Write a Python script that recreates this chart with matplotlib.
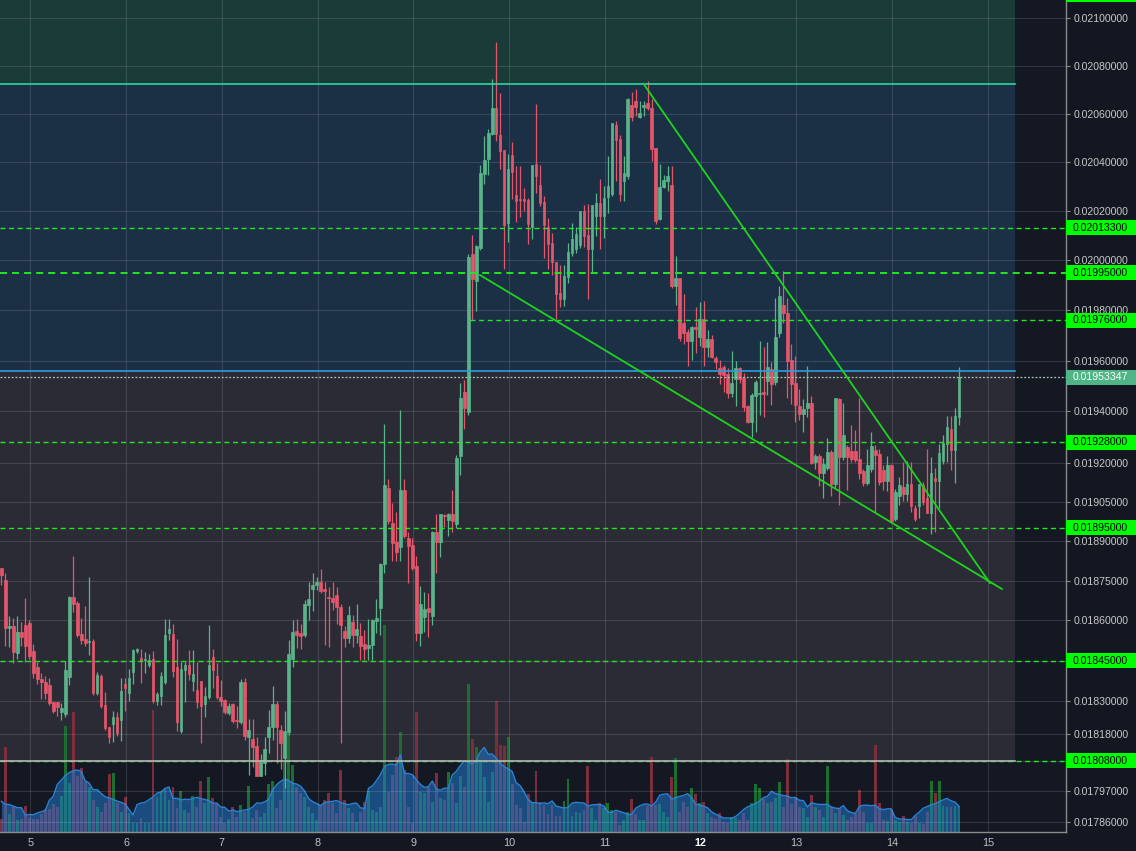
import matplotlib
matplotlib.use('Agg')

import matplotlib.pyplot as plt
import matplotlib.transforms as mtransforms
from matplotlib.patches import Rectangle
from matplotlib.ticker import FixedLocator, NullLocator, FuncFormatter
import numpy as np
import pandas as pd

plt.rcParams['font.family'] = ['Liberation Sans', 'DejaVu Sans']

# ---------------- data (hourly candles, x = day of month) ----------------
first_candle_day = 4 + 16.75 / 24

opens = [
    0.018796, 0.018751, 0.018570, 0.018578, 0.018478, 0.018556, 0.018582, 0.018589, 0.018485, 0.018426,
    0.018382, 0.018370, 0.018359, 0.018296, 0.018296, 0.018259, 0.018252, 0.018389, 0.018687, 0.018664,
    0.018548, 0.018530, 0.018519, 0.018522, 0.018330, 0.018393, 0.018285, 0.018204, 0.018215, 0.018241,
    0.018230, 0.018363, 0.018330, 0.018408, 0.018485, 0.018459, 0.018452, 0.018434, 0.018456, 0.018300,
    0.018319, 0.018370, 0.018552, 0.018548, 0.018426, 0.018189, 0.018415, 0.018434, 0.018374, 0.018341,
    0.018374, 0.018289, 0.018315, 0.018463, 0.018393, 0.018315, 0.018304, 0.018256, 0.018289, 0.018230,
    0.018222, 0.018370, 0.018167, 0.018160, 0.018134, 0.018025, 0.018073, 0.018167, 0.018204, 0.018289,
    0.018193, 0.018091, 0.018185, 0.018456, 0.018559, 0.018552, 0.018545, 0.018657, 0.018717, 0.018732,
    0.018743, 0.018717, 0.018687, 0.018683, 0.018694, 0.018649, 0.018559, 0.018533, 0.018593, 0.018545,
    0.018541, 0.018511, 0.018496, 0.018508, 0.018596, 0.018645, 0.018811, 0.019104, 0.018969, 0.018896,
    0.018877, 0.019096, 0.018911, 0.018885, 0.018804, 0.018552, 0.018611, 0.018645, 0.018615, 0.018935,
    0.018896, 0.019000, 0.018981, 0.019004, 0.018965, 0.019227, 0.019478, 0.019396, 0.020024, 0.019918,
    0.020049, 0.020350, 0.020412, 0.020518, 0.020625, 0.020514, 0.020449, 0.020151, 0.020429, 0.020267,
    0.020250, 0.020250, 0.020246, 0.020135, 0.020392, 0.020308, 0.020237, 0.020135, 0.020069, 0.019992,
    0.019869, 0.019845, 0.019935, 0.020029, 0.020045, 0.020061, 0.020200, 0.020102, 0.020045, 0.020180,
    0.020233, 0.020180, 0.020258, 0.020271, 0.020555, 0.020494, 0.020321, 0.020342, 0.020637, 0.020654,
    0.020588, 0.020629, 0.020646, 0.020625, 0.020457, 0.020167, 0.020300, 0.020321, 0.020308, 0.019898,
    0.019931, 0.019749, 0.019714, 0.019678, 0.019733, 0.019694, 0.019765, 0.019655, 0.019686, 0.019612,
    0.019569, 0.019576, 0.019549, 0.019471, 0.019529, 0.019569, 0.019533, 0.019420, 0.019358, 0.019459,
    0.019467, 0.019478, 0.019518, 0.019565, 0.019514, 0.019710, 0.019820, 0.019788, 0.019604, 0.019510,
    0.019420, 0.019392, 0.019412, 0.019435, 0.019204, 0.019227, 0.019162, 0.019181, 0.019242, 0.019119,
    0.019447, 0.019223, 0.019262, 0.019246, 0.019246, 0.019215, 0.019169, 0.019123, 0.019177, 0.019250,
    0.019235, 0.019173, 0.019131, 0.019192, 0.018985, 0.019073, 0.019108, 0.019081, 0.019119, 0.019027,
    0.019035, 0.019115, 0.019065, 0.019008, 0.019142, 0.019131, 0.019208, 0.019273, 0.019331, 0.019250,
    0.019377,
]
highs = [
    0.018796, 0.018777, 0.018615, 0.018608, 0.018615, 0.018593, 0.018683, 0.018600, 0.018511, 0.018445,
    0.018404, 0.018393, 0.018385, 0.018296, 0.018296, 0.018293, 0.018448, 0.018691, 0.018842, 0.018672,
    0.018608, 0.018653, 0.018762, 0.018530, 0.018408, 0.018400, 0.018333, 0.018204, 0.018263, 0.018259,
    0.018385, 0.018385, 0.018419, 0.018493, 0.018496, 0.018493, 0.018482, 0.018474, 0.018485, 0.018333,
    0.018408, 0.018604, 0.018604, 0.018585, 0.018530, 0.018445, 0.018445, 0.018489, 0.018489, 0.018445,
    0.018374, 0.018352, 0.018582, 0.018493, 0.018441, 0.018378, 0.018308, 0.018293, 0.018293, 0.018282,
    0.018382, 0.018385, 0.018233, 0.018233, 0.018167, 0.018106, 0.018167, 0.018267, 0.018356, 0.018300,
    0.018211, 0.018263, 0.018526, 0.018600, 0.018604, 0.018585, 0.018676, 0.018743, 0.018777, 0.018762,
    0.018792, 0.018743, 0.018725, 0.018743, 0.018725, 0.018660, 0.018578, 0.018653, 0.018619, 0.018660,
    0.018589, 0.018563, 0.018604, 0.018604, 0.018679, 0.018815, 0.019350, 0.019138, 0.019046, 0.019012,
    0.019404, 0.019138, 0.018935, 0.018911, 0.018842, 0.018728, 0.018706, 0.018702, 0.018938, 0.019004,
    0.019004, 0.019004, 0.019008, 0.019096, 0.019231, 0.019510, 0.019522, 0.020024, 0.020102, 0.020061,
    0.020387, 0.020506, 0.020535, 0.020746, 0.020900, 0.020687, 0.020449, 0.020433, 0.020482, 0.020383,
    0.020383, 0.020296, 0.020254, 0.020387, 0.020642, 0.020387, 0.020262, 0.020171, 0.020110, 0.019992,
    0.019980, 0.019980, 0.020069, 0.020151, 0.020135, 0.020200, 0.020225, 0.020229, 0.020225, 0.020275,
    0.020329, 0.020304, 0.020424, 0.020563, 0.020571, 0.020510, 0.020424, 0.020667, 0.020692, 0.020704,
    0.020654, 0.020654, 0.020737, 0.020662, 0.020457, 0.020392, 0.020346, 0.020383, 0.020383, 0.020016,
    0.019931, 0.019865, 0.019726, 0.019737, 0.019812, 0.019833, 0.019837, 0.019722, 0.019702, 0.019620,
    0.019604, 0.019584, 0.019569, 0.019639, 0.019600, 0.019576, 0.019553, 0.019427, 0.019471, 0.019522,
    0.019678, 0.019655, 0.019675, 0.019596, 0.019849, 0.019898, 0.019959, 0.019849, 0.019667, 0.019620,
    0.019490, 0.019447, 0.019580, 0.019459, 0.019235, 0.019235, 0.019219, 0.019296, 0.019250, 0.019451,
    0.019451, 0.019435, 0.019269, 0.019346, 0.019327, 0.019451, 0.019177, 0.019254, 0.019319, 0.019269,
    0.019254, 0.019192, 0.019227, 0.019196, 0.019100, 0.019146, 0.019204, 0.019208, 0.019204, 0.019038,
    0.019119, 0.019127, 0.019254, 0.019223, 0.019181, 0.019273, 0.019308, 0.019381, 0.019381, 0.019412,
    0.019576,
]
lows = [
    0.018732, 0.018504, 0.018500, 0.018441, 0.018456, 0.018504, 0.018445, 0.018456, 0.018385, 0.018363,
    0.018308, 0.018308, 0.018285, 0.018256, 0.018245, 0.018230, 0.018241, 0.018359, 0.018630, 0.018537,
    0.018511, 0.018504, 0.018471, 0.018322, 0.018322, 0.018274, 0.018193, 0.018146, 0.018149, 0.018171,
    0.018153, 0.018263, 0.018300, 0.018363, 0.018478, 0.018367, 0.018404, 0.018426, 0.018293, 0.018285,
    0.018285, 0.018363, 0.018526, 0.018389, 0.018189, 0.018182, 0.018296, 0.018378, 0.018337, 0.018274,
    0.018146, 0.018241, 0.018308, 0.018348, 0.018308, 0.018282, 0.018252, 0.018248, 0.018219, 0.018200,
    0.018215, 0.018156, 0.018029, 0.018058, 0.018025, 0.018025, 0.018029, 0.018109, 0.018156, 0.018073,
    0.018051, 0.017982, 0.018175, 0.018426, 0.018496, 0.018493, 0.018537, 0.018600, 0.018634, 0.018713,
    0.018702, 0.018508, 0.018500, 0.018638, 0.018585, 0.018146, 0.018500, 0.018515, 0.018500, 0.018515,
    0.018452, 0.018452, 0.018452, 0.018452, 0.018552, 0.018545, 0.018777, 0.018965, 0.018823, 0.018823,
    0.018823, 0.018911, 0.018740, 0.018789, 0.018522, 0.018504, 0.018556, 0.018537, 0.018582, 0.018777,
    0.018838, 0.018954, 0.018919, 0.018935, 0.018950, 0.019154, 0.019331, 0.019385, 0.019761, 0.019796,
    0.020041, 0.020312, 0.020346, 0.020510, 0.020486, 0.020371, 0.019967, 0.020074, 0.020250, 0.020155,
    0.020176, 0.020200, 0.020065, 0.020086, 0.020275, 0.020221, 0.020008, 0.019967, 0.019943, 0.019765,
    0.019812, 0.019816, 0.019910, 0.020016, 0.020029, 0.020049, 0.020053, 0.019845, 0.019955, 0.020098,
    0.020045, 0.020090, 0.020192, 0.020262, 0.020321, 0.020242, 0.020242, 0.020329, 0.020571, 0.020592,
    0.020584, 0.020592, 0.020617, 0.020404, 0.020147, 0.020163, 0.020292, 0.020283, 0.019890, 0.019820,
    0.019678, 0.019667, 0.019580, 0.019604, 0.019631, 0.019659, 0.019580, 0.019616, 0.019612, 0.019565,
    0.019506, 0.019478, 0.019451, 0.019455, 0.019420, 0.019510, 0.019400, 0.019354, 0.019300, 0.019319,
    0.019385, 0.019377, 0.019463, 0.019427, 0.019502, 0.019694, 0.019749, 0.019451, 0.019431, 0.019358,
    0.019365, 0.019319, 0.019377, 0.019196, 0.019177, 0.019111, 0.019065, 0.019173, 0.019073, 0.019104,
    0.019038, 0.019212, 0.019096, 0.019204, 0.019204, 0.019138, 0.019111, 0.019115, 0.019165, 0.019008,
    0.019115, 0.019096, 0.019092, 0.018973, 0.018977, 0.019038, 0.019054, 0.019054, 0.019012, 0.018977,
    0.018988, 0.019038, 0.019008, 0.018927, 0.018935, 0.019027, 0.019196, 0.019204, 0.019173, 0.019123,
    0.019346,
]
closes = [
    0.018770, 0.018570, 0.018578, 0.018482, 0.018556, 0.018537, 0.018504, 0.018467, 0.018404, 0.018382,
    0.018370, 0.018330, 0.018293, 0.018263, 0.018278, 0.018274, 0.018415, 0.018687, 0.018660, 0.018545,
    0.018526, 0.018515, 0.018522, 0.018330, 0.018396, 0.018282, 0.018200, 0.018167, 0.018241, 0.018182,
    0.018337, 0.018348, 0.018385, 0.018489, 0.018493, 0.018448, 0.018456, 0.018452, 0.018300, 0.018326,
    0.018393, 0.018545, 0.018567, 0.018411, 0.018222, 0.018419, 0.018434, 0.018400, 0.018400, 0.018296,
    0.018282, 0.018319, 0.018434, 0.018415, 0.018315, 0.018300, 0.018259, 0.018282, 0.018226, 0.018226,
    0.018370, 0.018171, 0.018193, 0.018131, 0.018025, 0.018076, 0.018124, 0.018204, 0.018289, 0.018204,
    0.018146, 0.018189, 0.018474, 0.018556, 0.018545, 0.018541, 0.018660, 0.018679, 0.018732, 0.018743,
    0.018710, 0.018710, 0.018683, 0.018668, 0.018649, 0.018582, 0.018533, 0.018619, 0.018545, 0.018567,
    0.018504, 0.018493, 0.018508, 0.018600, 0.018608, 0.018811, 0.019115, 0.018977, 0.018892, 0.018858,
    0.019096, 0.018919, 0.018881, 0.018796, 0.018552, 0.018660, 0.018642, 0.018630, 0.018935, 0.018896,
    0.019004, 0.018996, 0.019004, 0.018977, 0.019219, 0.019451, 0.019412, 0.020012, 0.019927, 0.020057,
    0.020354, 0.020408, 0.020522, 0.020625, 0.020518, 0.020445, 0.020143, 0.020371, 0.020358, 0.020242,
    0.020246, 0.020242, 0.020147, 0.020387, 0.020342, 0.020233, 0.020143, 0.020065, 0.019992, 0.019865,
    0.019845, 0.019939, 0.020033, 0.020086, 0.020106, 0.020200, 0.020098, 0.020045, 0.020225, 0.020233,
    0.020180, 0.020254, 0.020304, 0.020563, 0.020490, 0.020271, 0.020354, 0.020662, 0.020588, 0.020629,
    0.020604, 0.020637, 0.020625, 0.020453, 0.020159, 0.020300, 0.020325, 0.020342, 0.019898, 0.019931,
    0.019690, 0.019710, 0.019678, 0.019733, 0.019726, 0.019765, 0.019655, 0.019686, 0.019616, 0.019596,
    0.019549, 0.019545, 0.019471, 0.019510, 0.019569, 0.019529, 0.019416, 0.019358, 0.019463, 0.019514,
    0.019471, 0.019467, 0.019573, 0.019506, 0.019694, 0.019857, 0.019788, 0.019600, 0.019506, 0.019424,
    0.019392, 0.019408, 0.019435, 0.019200, 0.019227, 0.019162, 0.019196, 0.019242, 0.019119, 0.019451,
    0.019223, 0.019308, 0.019223, 0.019215, 0.019212, 0.019162, 0.019123, 0.019192, 0.019265, 0.019231,
    0.019127, 0.019131, 0.019192, 0.018977, 0.019088, 0.019115, 0.019081, 0.019119, 0.019035, 0.018985,
    0.019119, 0.019050, 0.019008, 0.019162, 0.019131, 0.019238, 0.019277, 0.019338, 0.019250, 0.019381,
    0.01953347,
]
volumes = [
    13, 85, 18, 25, 12, 13, 26, 14, 13, 13,
    18, 23, 23, 28, 25, 36, 106, 49, 120, 56,
    64, 50, 45, 32, 25, 20, 29, 58, 59, 29,
    20, 35, 19, 9, 9, 14, 9, 9, 122, 35,
    40, 44, 32, 45, 24, 41, 22, 19, 36, 25,
    51, 29, 55, 34, 29, 15, 9, 13, 25, 15,
    27, 20, 46, 14, 22, 15, 19, 48, 51, 24,
    32, 70, 100, 67, 45, 39, 35, 25, 19, 12,
    27, 32, 39, 29, 19, 62, 32, 24, 19, 10,
    20, 30, 41, 22, 20, 25, 207, 40, 57, 75,
    100, 62, 25, 9, 120, 40, 39, 45, 30, 59,
    34, 32, 60, 49, 29, 56, 45, 148, 93, 85,
    72, 55, 30, 60, 131, 87, 86, 95, 48, 27,
    24, 10, 38, 29, 61, 30, 27, 18, 27, 16,
    16, 31, 53, 16, 20, 19, 22, 66, 24, 12,
    29, 24, 29, 22, 20, 7, 12, 20, 33, 18,
    12, 12, 26, 75, 27, 28, 20, 15, 55, 74,
    20, 30, 25, 44, 38, 29, 30, 19, 15, 13,
    19, 10, 9, 15, 14, 12, 19, 12, 29, 48,
    44, 33, 29, 30, 34, 50, 25, 73, 28, 34,
    25, 24, 15, 37, 25, 22, 15, 66, 25, 19,
    24, 17, 12, 15, 18, 42, 20, 9, 9, 87,
    29, 12, 11, 22, 12, 10, 16, 10, 9, 16,
    9, 8, 20, 51, 39, 51, 26, 25, 25, 26,
    26,
]

# zones and drawn levels
green_zone_low = 0.020722
blue_zone_low = 0.019559
gray_zone_low = 0.01808
offscreen_level = 0.0211  # only the edge of its label box shows at the top
level_prices = [0.020133, 0.01995, 0.01976, 0.01928, 0.01895, 0.01845, 0.01808]
level_starts = [4.6836, 4.6836, 9.591, 4.6836, 4.6836, 4.6836, 4.6836]
last_price = 0.01953347
upper_trend_days = [11.408, 15.021]
upper_trend_prices = [0.020722, 0.018740]
lower_trend_days = [9.696, 15.146]
lower_trend_prices = [0.019941, 0.018718]

price_ticks = [0.021, 0.0208, 0.0206, 0.0204, 0.0202, 0.0200, 0.0198, 0.0196, 0.0194, 0.0192,
               0.01905, 0.0189, 0.01875, 0.0186, 0.01845, 0.0183, 0.01818, 0.01808, 0.01797, 0.01786]
day_ticks = [5, 6, 7, 8, 9, 10, 11, 12, 13, 14, 15]

# ---------------- figure ----------------
W, H = 1136, 851
x_left, x_right = 4.6836, 15.815
zone_end = 15.282
y_low, y_high = 0.017823, 0.021078

BG = '#131722'
UP = '#5bb38a'
DOWN = '#e5566b'
LEVEL = '#22e622'

fig = plt.figure(figsize=(W / 100, H / 100), dpi=100, facecolor=BG)
rect = [0, 19 / H, 1066 / W, 832 / H]
ax = fig.add_axes(rect, zorder=0)
axv = fig.add_axes(rect, zorder=1)
axc = fig.add_axes(rect, zorder=2)

for a in (ax, axc):
    a.set_yscale('log')
    a.set_ylim(y_low, y_high)
for a in (ax, axv, axc):
    a.set_xlim(x_left, x_right)

# background layer: zones
ax.set_facecolor('#141823')
ax.fill_between([x_left, zone_end], gray_zone_low, blue_zone_low, color='#2a2b35', lw=0)
ax.fill_between([x_left, zone_end], blue_zone_low, green_zone_low, color='#1b2f45', lw=0)
ax.fill_between([x_left, zone_end], green_zone_low, y_high, color='#1b3b39', lw=0)
ax.tick_params(left=False, bottom=False, labelleft=False, labelbottom=False)
ax.yaxis.set_minor_locator(NullLocator())
ax.set_yticks([])
ax.set_xticks([])
for s in ax.spines.values():
    s.set_visible(False)

# volume layer
t = first_candle_day + np.arange(len(opens)) / 24
o = np.array(opens)
c = np.array(closes)
up = c >= o
vol = np.array(volumes, dtype=float)
vol_ma = pd.Series(vol).rolling(9, center=True, min_periods=1).mean()
axv.patch.set_visible(False)
axv.set_ylim(0, 832)
axv.bar(t, vol, width=0.03, color=np.where(up, '#1c6e30', '#7e2d3d'), linewidth=0)
axv.fill_between(t, 0, vol_ma, color='#2178cc', alpha=0.55, lw=0)
axv.plot(t, vol_ma, color='#2a82d4', lw=1.0)
axv.axis('off')

# candle / lines layer
axc.patch.set_visible(False)
col = np.where(up, UP, DOWN)
axc.vlines(t, lows, highs, colors=col, lw=0.9, zorder=3)
axc.bar(t, np.abs(c - o), bottom=np.minimum(o, c), width=0.028, color=col,
        edgecolor=col, linewidth=0.5, zorder=4)

axc.plot([x_left, zone_end], [green_zone_low] * 2, color='#2ad9a4', lw=1.2, zorder=5)
axc.plot([x_left, zone_end], [blue_zone_low] * 2, color='#2d9de3', lw=1.2, zorder=5)
for p, start in zip(level_prices, level_starts):
    lw = 1.4 if p == 0.01995 else 1.0
    axc.plot([start, x_right], [p, p], color=LEVEL, lw=lw, ls=(0, (3.6, 2.6)), zorder=5)
axc.plot([x_left, zone_end], [gray_zone_low] * 2, color='#b4b4b4', lw=1.2, zorder=6)
axc.plot([x_left, x_right], [last_price] * 2, color='#a5c9bc', lw=0.9, ls=(0, (1.5, 1.5)), zorder=5)

axc.plot(upper_trend_days, upper_trend_prices, color='#1ed41e', lw=1.3, zorder=6)
axc.plot(lower_trend_days, lower_trend_prices, color='#1ed41e', lw=1.3, zorder=6)

# grid + axes
axc.yaxis.set_major_locator(FixedLocator(price_ticks))
axc.yaxis.set_minor_locator(NullLocator())
axc.yaxis.set_major_formatter(FuncFormatter(lambda v, pos: '%.8f' % v))
axc.yaxis.tick_right()
axc.set_xticks(day_ticks)
axc.set_xticklabels([str(d) for d in day_ticks])
axc.grid(True, color='white', alpha=0.12, lw=0.8)
axc.tick_params(axis='y', which='major', length=3, width=0.8, color='#8a8a8a',
                labelcolor='#c8c8c8', labelsize=7.6, pad=2.2)
axc.tick_params(axis='x', length=0, labelcolor='#c0c0c0', labelsize=7.8, pad=4)
for lab in axc.get_xticklabels():
    if lab.get_text() == '12':
        lab.set_fontweight('bold')
        lab.set_color('white')
for side in ('top', 'left'):
    axc.spines[side].set_visible(False)
for side in ('right', 'bottom'):
    axc.spines[side].set_color('#8c8c8c')
    axc.spines[side].set_linewidth(1.0)

# highlighted price labels on the right scale
ident = mtransforms.IdentityTransform()


def price_label(p, face, text_color, with_text=True):
    ypx = axc.transData.transform((x_left, p))[1]
    fig.add_artist(Rectangle((1066, ypx - 7.5), 72, 15, transform=ident,
                             facecolor=face, edgecolor='none', zorder=10))
    if with_text:
        fig.text(1073, ypx, '%.8f' % p, transform=ident, ha='left', va='center',
                 fontsize=7.6, color=text_color, zorder=11)


price_label(offscreen_level, '#00ff00', 'black', with_text=False)
for p in level_prices:
    price_label(p, '#00ff00', 'black')
price_label(last_price, '#4fb587', 'white')

fig.savefig('out.png', dpi=100, facecolor=BG)
